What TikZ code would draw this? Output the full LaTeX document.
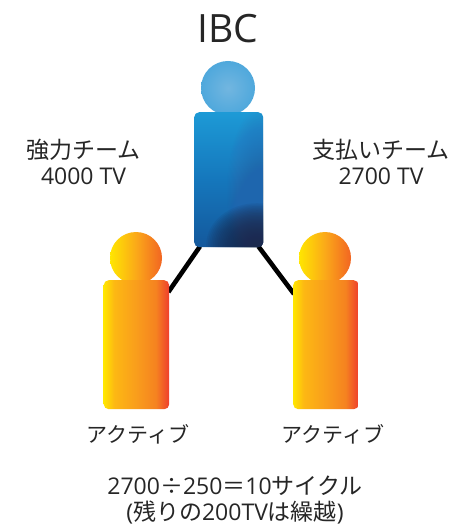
\documentclass[tikz,border=0pt]{standalone}
\usepackage{fontspec}
\setmainfont{Open Sans}
\newfontfamily\jp{Noto Sans CJK JP}
\usetikzlibrary{calc,backgrounds}
\definecolor{warmA}{HTML}{FFE600}
\definecolor{warmB}{HTML}{FDB813}
\definecolor{warmC}{HTML}{F99D1C}
\definecolor{warmD}{HTML}{F58220}
\definecolor{warmE}{HTML}{EF3E2C}
\definecolor{warmF}{HTML}{FBA919}
\definecolor{warmG}{HTML}{F26522}
\definecolor{blueA}{HTML}{1B2A4E}
\definecolor{blueC}{HTML}{3A66AE}
\definecolor{blueD}{HTML}{14589C}
\definecolor{blueE}{HTML}{1577BC}
\definecolor{blueF}{HTML}{1D9AD6}
\definecolor{blueH}{HTML}{72B6E0}
\definecolor{blueI}{HTML}{4FA8DC}
\definecolor{blueJ}{HTML}{3C9DD8}
\pgfdeclarehorizontalshading{warmbody}{100bp}{
  color(0bp)=(warmA); color(25bp)=(warmA); color(33bp)=(warmB); color(50bp)=(warmC); color(65bp)=(warmD); color(75bp)=(warmE); color(100bp)=(warmE)}
\pgfdeclarehorizontalshading{warmhead}{100bp}{
  color(0bp)=(warmA); color(25bp)=(warmA); color(50bp)=(warmF); color(75bp)=(warmG); color(100bp)=(warmG)}
\pgfdeclareverticalshading{bluebody}{100bp}{
  color(0bp)=(blueD); color(25bp)=(blueD); color(50bp)=(blueE); color(75bp)=(blueF); color(100bp)=(blueF)}
\pgfdeclareradialshading{bluehead}{\pgfpoint{0bp}{0bp}}{
  color(0bp)=(blueH); color(25bp)=(blueI); color(50bp)=(blueJ); color(100bp)=(blueJ)}
\tikzset{
  bodybox/.style={rectangle,rounded corners=5pt,inner sep=0pt,minimum width=#1,anchor=north west},
  headdisc/.style={circle,inner sep=0pt},
  link/.style={draw=black,line width=4.6pt},
  lab/.style={align=center,font=\fontsize{23}{26}\selectfont,inner sep=0pt,text=black!85},
  kana/.style={inner sep=0pt,font=\fontsize{21}{25}\selectfont\jp,text=black!85}
}
\begin{document}
\begin{tikzpicture}[x=1pt,y=-1pt]
\useasboundingbox (0,0) rectangle (470,526);
\node[headdisc,shading=bluehead,minimum size=54pt] (bh) at (228,88) {};
\node[headdisc,shading=warmhead,minimum size=52pt] (lh) at (136,258) {};
\node[headdisc,shading=warmhead,minimum size=52pt] (rh) at (325,258) {};
\node[bodybox=69pt,minimum height=135pt,shading=bluebody,path picture={
  \foreach \k in {1,...,30}{
    \fill[blueC,fill opacity=.035] ($(path picture bounding box.south east)+(0,-57)$) ellipse [x radius={\k*1.2pt},y radius={\k*2.8pt}];
  }
  \foreach \k in {1,...,30}{
    \fill[blueA,fill opacity=.085] ($(path picture bounding box.south east)+(-6,-2)$) ellipse [x radius={\k*1.7pt},y radius={\k*1.4pt}];
  }
}] (b) at (194,112) {};
\node[bodybox=65.5pt,minimum height=129pt,shading=warmbody] (l) at (103.5,280) {};
\node[bodybox=65.5pt,minimum height=129pt,shading=warmbody] (r) at (293,280) {};
\begin{pgfonlayer}{background}
\fill[white] (0,0) rectangle (470,526);
\draw[link] ($(b.south west)+(6,-1)$) -- ($(l.north east)+(-1,12)$);
\draw[link] ($(b.south east)+(-5,-1)$) -- ($(r.north west)+(1,14)$);
\end{pgfonlayer}
\node[font=\fontsize{39}{44}\selectfont,inner sep=0pt,text=black!85] (t) at (228,29) {IBC};
\node[lab] (tl) at (83.5,162) {{\jp 強力チーム}\\4000 TV};
\node[lab] (tr) at (381,162) {{\jp 支払いチーム}\\2700 TV};
\node[kana] (al) at (138,434) {アクティブ};
\node[kana] (ar) at (333,434) {アクティブ};
\node[lab] (calc) at (235,500) {2700{\jp ÷}250{\jp ＝}10{\jp サイクル}\\({\jp 残りの}200TV{\jp は繰越})};
\end{tikzpicture}
\end{document}
